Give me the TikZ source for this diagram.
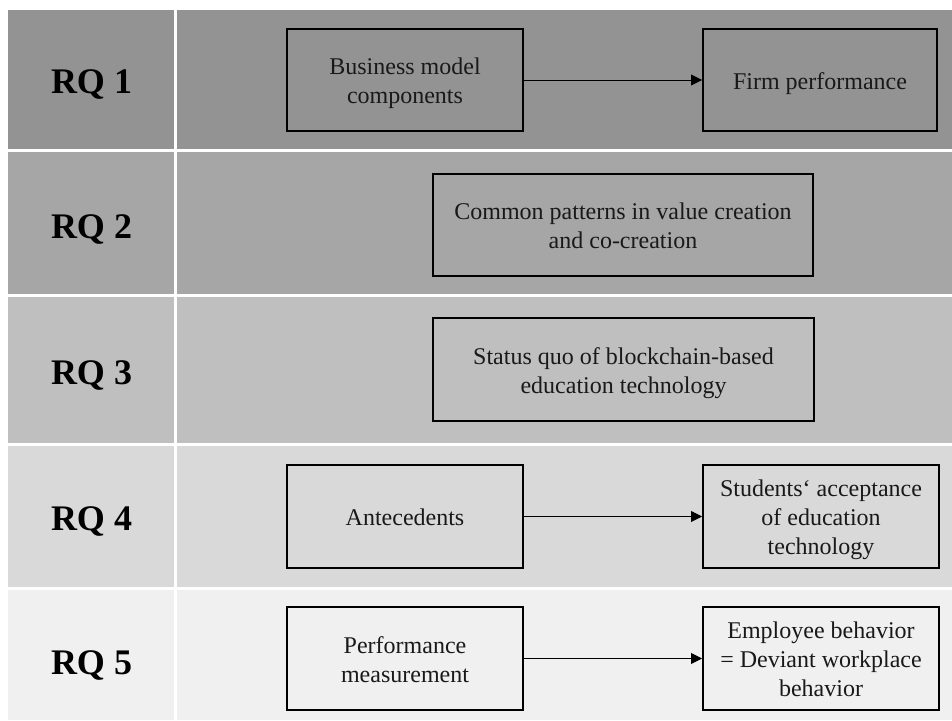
\documentclass[tikz,border=0pt]{standalone}
\usepackage{fontspec}
\setmainfont{Liberation Serif}
\usetikzlibrary{arrows.meta}
\definecolor{rowA}{HTML}{939393}
\definecolor{rowB}{HTML}{A6A6A6}
\definecolor{rowC}{HTML}{BFBFBF}
\definecolor{rowD}{HTML}{D9D9D9}
\definecolor{rowE}{HTML}{F0F0F0}
\newcommand{\boxtext}[1]{\raisebox{-3.5pt}[\height][\depth]{\begin{tabular}{@{}c@{}}#1\end{tabular}}}
\tikzset{
  rqlabel/.style={font=\fontsize{36}{40}\selectfont\bfseries, inner sep=0pt},
  stepbox/.style={draw=black, line width=2.4pt, inner sep=0pt, outer sep=0pt,
    align=center, font=\fontsize{24}{29}\selectfont, text=black!90},
  conn/.style={line width=0.9pt, -{Triangle[length=11pt,width=11pt]}, shorten >=1pt},
}
\begin{document}
\begin{tikzpicture}[x=1pt,y=-1pt]
\useasboundingbox (0,0) rectangle (952,720);
\fill[white] (0,0) rectangle (952,720);
% rows
\fill[rowA] (8,10) rectangle (952,149);
\fill[rowB] (8,152) rectangle (952,294);
\fill[rowC] (8,297) rectangle (952,443);
\fill[rowD] (8,446) rectangle (952,587);
\fill[rowE] (8,590) rectangle (952,720);
\fill[white] (174.2,10) rectangle (176.8,720);
% labels
\node[rqlabel] (rq1) at (91.5,84) {RQ 1};
\node[rqlabel] (rq2) at (91.5,229) {RQ 2};
\node[rqlabel] (rq3) at (91.5,375) {RQ 3};
\node[rqlabel] (rq4) at (91.5,521) {RQ 4};
\node[rqlabel] (rq5) at (91.5,665) {RQ 5};
% boxes
\node[stepbox, minimum width=236pt, minimum height=102pt] (bmc) at (405,80) {\boxtext{Business model\\components}};
\node[stepbox, minimum width=234pt, minimum height=102pt] (fp) at (820,80) {\boxtext{Firm performance}};
\node[stepbox, minimum width=380pt, minimum height=102pt] (cp) at (623,225) {\boxtext{Common patterns in value creation\\and co-creation}};
\node[stepbox, minimum width=381pt, minimum height=103pt] (sq) at (623.5,369.5) {\boxtext{Status quo of blockchain-based\\education technology}};
\node[stepbox, minimum width=236pt, minimum height=103pt] (ant) at (405,516.5) {\boxtext{Antecedents}};
\node[stepbox, minimum width=236pt, minimum height=103pt] (sa) at (821,516.5) {\boxtext{Students‘ acceptance\\of education\\technology}};
\node[stepbox, minimum width=236pt, minimum height=103pt] (pm) at (405,658.5) {\boxtext{Performance\\measurement}};
\node[stepbox, minimum width=236pt, minimum height=103pt] (eb) at (821,658.5) {\boxtext{Employee behavior\\= Deviant workplace\\behavior}};
% connectors
\draw[conn] (bmc.east) -- (fp.west);
\draw[conn] (ant.east) -- (sa.west);
\draw[conn] (pm.east) -- (eb.west);
\end{tikzpicture}
\end{document}
